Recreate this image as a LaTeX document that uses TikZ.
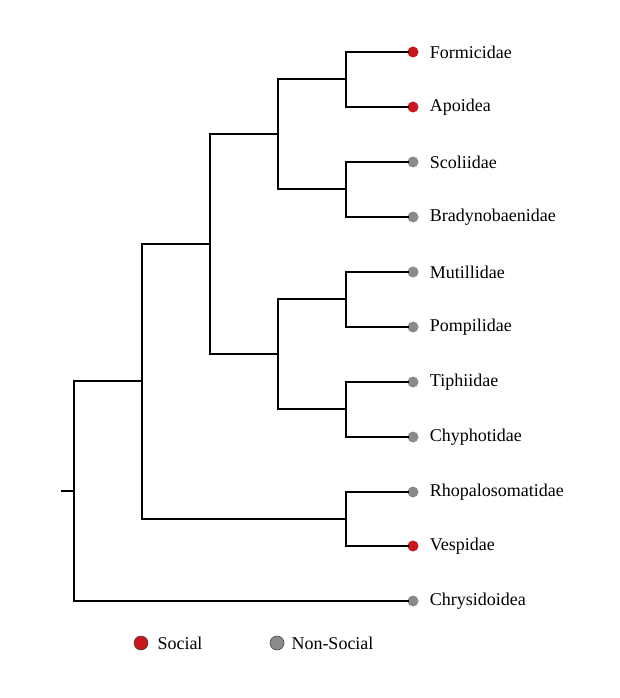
\documentclass[tikz,border=0pt]{standalone}
\usepackage{fontspec}
\setmainfont{Liberation Serif}
\usetikzlibrary{positioning}
\definecolor{socialred}{HTML}{C8161D}
\definecolor{nonsocialgray}{HTML}{8A8A8A}
\tikzstyle{branch}=[line width=2.8pt, line cap=rect, line join=miter]
\tikzset{social/.style={circle, fill=socialred, inner sep=0pt, minimum size=11pt},
  nonsocial/.style={circle, fill=nonsocialgray, inner sep=0pt, minimum size=11pt},
  taxon/.style={inner sep=0pt, anchor=west, font=\fontsize{18}{20}\selectfont}}

\begin{document}
\begin{tikzpicture}[x=1pt, y=-1pt]
    \useasboundingbox (0,0) rectangle (620,698);
    % tips
    \node[social] (formicidae) at (413,52) {};
    \node[social] (apoidea) at (413,107) {};
    \node[nonsocial] (scoliidae) at (413,162) {};
    \node[nonsocial] (bradynobaenidae) at (413,217) {};
    \node[nonsocial] (mutillidae) at (413,272) {};
    \node[nonsocial] (pompilidae) at (413,327) {};
    \node[nonsocial] (tiphiidae) at (413,382) {};
    \node[nonsocial] (chyphotidae) at (413,437) {};
    \node[nonsocial] (rhopalosomatidae) at (413,492) {};
    \node[social] (vespidae) at (413,546) {};
    \node[nonsocial] (chrysidoidea) at (413,601) {};
    \foreach \t/\l in {formicidae/Formicidae, apoidea/Apoidea, scoliidae/Scoliidae,
        bradynobaenidae/Bradynobaenidae, mutillidae/Mutillidae, pompilidae/Pompilidae,
        tiphiidae/Tiphiidae, chyphotidae/Chyphotidae, rhopalosomatidae/Rhopalosomatidae,
        vespidae/Vespidae, chrysidoidea/Chrysidoidea}
      \node[taxon, right=11pt of \t] (\t-label) {\l};
    % internal nodes
    \coordinate (fa) at (346,79);
    \coordinate (sb) at (346,189);
    \coordinate (mp) at (346,299);
    \coordinate (tc) at (346,409);
    \coordinate (rv) at (346,519);
    \coordinate (fasb) at (278,134);
    \coordinate (mptc) at (278,354);
    \coordinate (aculeata) at (210,244);
    \coordinate (core) at (142,381);
    \coordinate (root) at (74,491);
    \coordinate (stub) at (62,491);
    % branches
    \draw[branch] (formicidae) -| (fa) |- (apoidea);
    \draw[branch] (scoliidae) -| (sb) |- (bradynobaenidae);
    \draw[branch] (mutillidae) -| (mp) |- (pompilidae);
    \draw[branch] (tiphiidae) -| (tc) |- (chyphotidae);
    \draw[branch] (rhopalosomatidae) -| (rv) |- (vespidae);
    \draw[branch] (fa) -| (fasb) |- (sb);
    \draw[branch] (mp) -| (mptc) |- (tc);
    \draw[branch] (fasb) -| (aculeata) |- (mptc);
    \draw[branch] (aculeata) -| (core) |- (rv);
    \draw[branch] (core) -| (root) |- (chrysidoidea);
    \draw[branch] (stub) -- (root);
    % legend
    \node[social, draw=black!70, line width=0.6pt, minimum size=14pt] (key-social) at (141,643) {};
    \node[taxon, right=9pt of key-social] (key-social-label) {Social};
    \node[nonsocial, draw=black!70, line width=0.6pt, minimum size=14pt] (key-nonsocial) at (277,643) {};
    \node[taxon, right=7pt of key-nonsocial] (key-nonsocial-label) {Non-Social};
\end{tikzpicture}
\end{document}
